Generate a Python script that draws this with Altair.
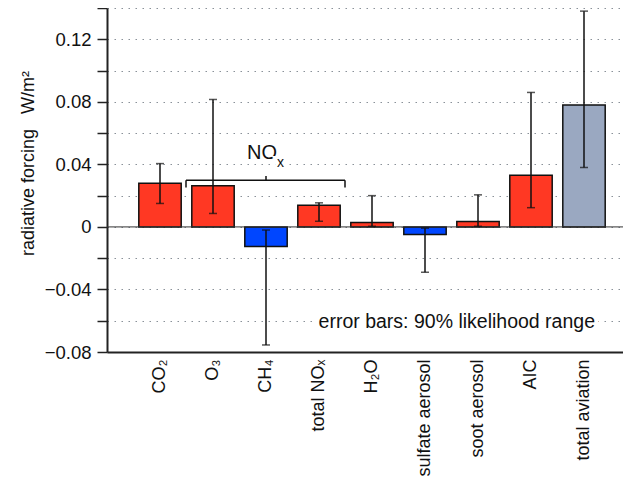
import altair as alt
import pandas as pd

# ---- data ----
categories = ["CO₂", "O₃", "CH₄", "total NOₓ", "H₂O",
              "sulfate aerosol", "soot aerosol", "AIC", "total aviation"]
forcing = [0.0280, 0.0263, -0.0125, 0.0138, 0.0028, -0.0048, 0.0034, 0.0330, 0.0780]
low = [0.0150, 0.0086, -0.0755, 0.0036, 0.0004, -0.0290, 0.0004, 0.0123, 0.0380]
high = [0.0405, 0.0815, -0.0020, 0.0154, 0.0200, -0.0008, 0.0205, 0.0860, 0.1380]
kind = ["warming", "warming", "cooling", "warming", "warming",
        "cooling", "warming", "warming", "total"]

y_ticks = [-0.08, -0.06, -0.04, -0.02, 0.0, 0.02, 0.04, 0.06, 0.08, 0.10, 0.12, 0.14]

# NOx bracket annotation (data units)
nox_left, nox_mid, nox_right = "O₃", "CH₄", "total NOₓ"
bracket_y = 0.0298
bracket_end_y = 0.0252
bracket_mid_y = 0.0325
nox_label_y = 0.0432
nox_sub_y = 0.0385
note_text = "error bars: 90% likelihood range"
note_y = -0.0606
note_x = "total aviation"

df = pd.DataFrame({"cat": categories, "rf": forcing, "lo": low, "hi": high, "kind": kind})

FONT = "Liberation Sans"
SP = "\u00a0\u00a0\u00a0"

# band range runs a little past the visible right edge (the reference is cut there)
x_scale = alt.Scale(domain=categories, paddingInner=0.2, paddingOuter=0.6, range=[0, 530])
x_axis = alt.Axis(title=None, labelAngle=-90, ticks=False, labelPadding=7,
                  labelFontSize=18, labelFont=FONT, labelColor="#111",
                  domainColor="#222", domainWidth=2, grid=False)
y_scale = alt.Scale(domain=[-0.08, 0.14], nice=False, zero=False)
y_axis = alt.Axis(
    title="radiative forcing" + SP + "W/m²", titleFont=FONT, titleFontSize=18,
    titleFontWeight="normal", titleColor="#111", titleAngle=-90,
    titleX=-74, titleY=155, titleAlign="center", titleBaseline="alphabetic",
    values=y_ticks,
    labelExpr="abs(round(datum.value*100)) % 4 == 0 ? (datum.value == 0 ? '0' : replace(format(datum.value, '.2f'), '-', '−')) : ''",
    labelFont=FONT, labelFontSize=18.5, labelColor="#111", labelPadding=6,
    tickSize=10, tickWidth=1.5, tickColor="#222",
    domainColor="#222", domainWidth=2,
    grid=True, gridDash=[1.5, 5.5], gridColor="#8a9199", gridWidth=1.2)


def X(field):
    return alt.X(field, type="nominal", scale=x_scale, axis=x_axis)


def Y(field):
    return alt.Y(field, type="quantitative", scale=y_scale, axis=y_axis)


base = alt.Chart(df)

bars = base.mark_bar(stroke="#111", strokeWidth=1.5).encode(
    x=X("cat"),
    y=Y("rf"),
    y2=alt.datum(0),
    color=alt.Color("kind:N", legend=None,
                    scale=alt.Scale(domain=["warming", "cooling", "total"],
                                    range=["#ff3823", "#0046ff", "#9aa8c1"])),
)

zero = alt.Chart(pd.DataFrame({"z": [0.0]})).mark_rule(color="#333", strokeWidth=1).encode(
    y=Y("z"))

err = base.mark_rule(color="#111", strokeWidth=1.5).encode(
    x=X("cat"), y=Y("lo"), y2="hi:Q")
cap_lo = base.mark_tick(color="#111", thickness=1.5, size=8, orient="horizontal").encode(
    x=X("cat"), y=Y("lo"))
cap_hi = base.mark_tick(color="#111", thickness=1.5, size=8, orient="horizontal").encode(
    x=X("cat"), y=Y("hi"))

bdf = pd.DataFrame({"l": [nox_left], "m": [nox_mid], "r": [nox_right],
                    "y": [bracket_y], "ye": [bracket_end_y], "ym": [bracket_mid_y],
                    "ty": [nox_label_y], "sy": [nox_sub_y]})
bb = alt.Chart(bdf)
br_h = bb.mark_rule(color="#111", strokeWidth=1.5, xOffset=-27, x2Offset=26).encode(
    x=X("l"), x2="r:N", y=Y("y"))
br_l = bb.mark_rule(color="#111", strokeWidth=1.5, xOffset=-27).encode(
    x=X("l"), y=Y("y"), y2="ye:Q")
br_r = bb.mark_rule(color="#111", strokeWidth=1.5, xOffset=26).encode(
    x=X("r"), y=Y("y"), y2="ye:Q")
br_m = bb.mark_rule(color="#111", strokeWidth=1.5).encode(
    x=X("m"), y=Y("y"), y2="ym:Q")

nox_halo = bb.mark_text(text="NO", font=FONT, fontSize=20, align="right", dx=11,
                        baseline="alphabetic", stroke="white", strokeWidth=8, color="white").encode(
    x=X("m"), y=Y("ty"))
nox_txt = bb.mark_text(text="NO", font=FONT, fontSize=20, align="right", dx=11,
                       baseline="alphabetic", color="#111").encode(
    x=X("m"), y=Y("ty"))
nox_sub_halo = bb.mark_text(text="x", font=FONT, fontSize=14, align="left", dx=11,
                            baseline="alphabetic", stroke="white", strokeWidth=6, color="white").encode(
    x=X("m"), y=Y("sy"))
nox_sub = bb.mark_text(text="x", font=FONT, fontSize=14, align="left", dx=11,
                       baseline="alphabetic", color="#111").encode(
    x=X("m"), y=Y("sy"))

ndf = pd.DataFrame({"x": [note_x], "y": [note_y], "t": [note_text]})
nb = alt.Chart(ndf)
note_halo = nb.mark_text(font=FONT, fontSize=19.5, align="right", dx=11, baseline="middle",
                         stroke="white", strokeWidth=8, color="white").encode(
    x=X("x"), y=Y("y"), text="t:N")
note = nb.mark_text(font=FONT, fontSize=19.5, align="right", dx=11, baseline="middle",
                    color="#111").encode(
    x=X("x"), y=Y("y"), text="t:N")

chart = alt.layer(
    bars, zero, err, cap_lo, cap_hi, br_h, br_l, br_r, br_m,
    nox_halo, nox_txt, nox_sub_halo, nox_sub, note_halo, note
).properties(
    width=516, height=344,
    padding={"left": 99, "top": 0, "right": 0, "bottom": 126},
    autosize=alt.AutoSizeParams(type="none"),
    background="white",
).configure_view(stroke=None)

chart.save("out.html", embed_options={"renderer": "svg", "actions": False})
